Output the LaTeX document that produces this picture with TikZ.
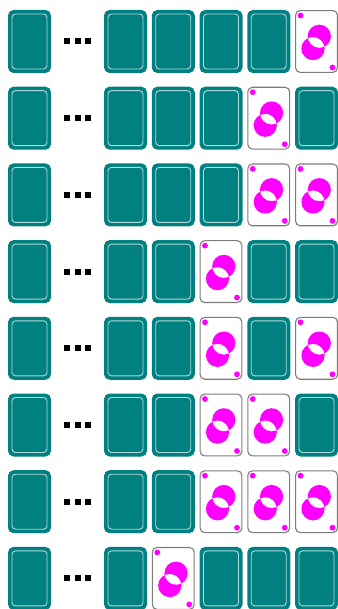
\documentclass[tikz,border=0pt]{standalone}
\definecolor{cardteal}{RGB}{0,128,128}
\definecolor{cardline}{RGB}{175,218,218}
\definecolor{facegray}{RGB}{125,125,125}
\definecolor{pinkmag}{RGB}{255,0,255}
\tikzset{
  backfill/.style={fill=cardteal, rounded corners=5.5pt},
  backline/.style={draw=cardline, line width=0.9pt, rounded corners=3.5pt},
  faceframe/.style={draw=facegray, fill=white, line width=1.1pt, rounded corners=4.5pt},
  pip/.style={fill=pinkmag},
  dotsq/.style={fill=black}
}
\newcommand\backcard[2]{%
  \path[backfill] (#1,#2) rectangle ++(43,63);
  \path[backline] (#1+4,#2+4) rectangle ++(35,55);
}
\newcommand\facecard[2]{%
  \path[faceframe] (#1+0.6,#2+0.6) rectangle ++(41.8,61.8);
  \path[pip] (#1+5.5,#2+5.5) circle (2.9pt);
  \path[pip] (#1+37.5,#2+57.5) circle (2.9pt);
  \path[pip, even odd rule] (#1+24.3,#2+26.3) ellipse [x radius=11.6pt, y radius=11.6pt]
                            (#1+18,#2+38.6) ellipse [x radius=11.6pt, y radius=11.6pt];
}
\begin{document}
\begin{tikzpicture}[x=1pt,y=-1pt]
\useasboundingbox (0,0) rectangle (337,609);
\foreach \r in {1,...,8}{
  \pgfmathsetmacro\ty{10+76.7*(\r-1)}
  \backcard{8}{\ty}
  \foreach \dx in {63.5,74.5,85.2}{
    \path[dotsq] (\dx,\ty+28.5) rectangle ++(6,6);
  }
  \foreach \j in {0,...,4}{
    \pgfmathsetmacro\tx{104+47.75*\j}
    \pgfmathtruncatemacro\bit{mod(floor(\r/(2^(4-\j))),2)}
    \ifnum\bit=1
      \facecard{\tx}{\ty}
    \else
      \backcard{\tx}{\ty}
    \fi
  }
}
\end{tikzpicture}
\end{document}
